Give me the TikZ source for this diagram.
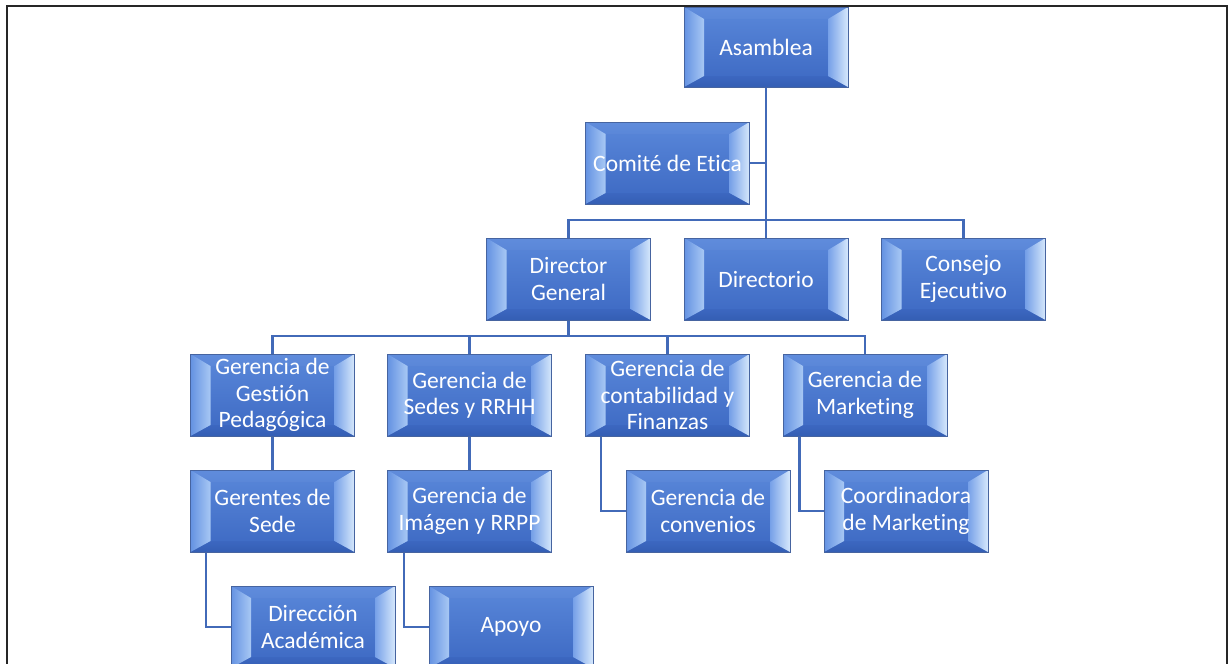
\documentclass[tikz,border=0pt]{standalone}
\usepackage{fontspec}
\setmainfont{Carlito}[Ligatures={NoCommon}]
\usetikzlibrary{calc,backgrounds}
\definecolor{faceT}{RGB}{90,136,218}
\definecolor{faceB}{RGB}{60,104,194}
\definecolor{topT}{RGB}{96,140,220}
\definecolor{topB}{RGB}{90,135,216}
\definecolor{botT}{RGB}{60,103,192}
\definecolor{botB}{RGB}{52,94,180}
\definecolor{lfL}{RGB}{100,146,226}
\definecolor{lfR}{RGB}{168,200,244}
\definecolor{rtL}{RGB}{118,160,232}
\definecolor{rtR}{RGB}{214,232,252}
\definecolor{bdr}{RGB}{70,100,160}
\definecolor{lc}{RGB}{66,106,184}
\tikzset{
  bx/.style={rectangle, minimum width=164pt, minimum height=82pt, inner sep=0pt,
    draw=bdr, line width=0.8pt, text=white, align=center,
    font=\fontsize{23.5}{26.5}\selectfont,
    path picture={
      \path (path picture bounding box.north west) coordinate (pNW)
            (path picture bounding box.north east) coordinate (pNE)
            (path picture bounding box.south west) coordinate (pSW)
            (path picture bounding box.south east) coordinate (pSE);
      \path ([shift={(20pt,-12pt)}]pNW) coordinate (iNW)
            ([shift={(-20pt,-12pt)}]pNE) coordinate (iNE)
            ([shift={(20pt,11pt)}]pSW) coordinate (iSW)
            ([shift={(-20pt,11pt)}]pSE) coordinate (iSE);
      \shade[top color=faceT, bottom color=faceB] (pNW) rectangle (pSE);
      \shade[top color=topT, bottom color=topB] (pNW) -- (pNE) -- (iNE) -- (iNW) -- cycle;
      \shade[top color=botT, bottom color=botB] (pSW) -- (pSE) -- (iSE) -- (iSW) -- cycle;
      \shade[left color=lfL, right color=lfR] (pNW) -- (iNW) -- (iSW) -- (pSW) -- cycle;
      \shade[left color=rtL, right color=rtR] (pNE) -- (iNE) -- (iSE) -- (pSE) -- cycle;
    }},
  conn/.style={draw=lc, line width=2.6pt},
  frame/.style={draw=black!85, line width=2.2pt}
}
\begin{document}
\begin{tikzpicture}[x=1pt, y=-1pt]
\useasboundingbox (0,0) rectangle (1229,664);
\clip (0,0) rectangle (1229,664);
\draw[frame] (7,6) rectangle (1227,700);

% connector junctions
\coordinate (j1) at (766,220);
\coordinate (j2) at (568.5,336);

% nodes
\node[bx, minimum height=80pt] (asam) at (766,47) {Asamblea};
\node[bx] (com) at (667.5,163) {Comité de Etica};
\node[bx] (dg) at (568.5,279) {Director\\General};
\node[bx] (dir) at (766,279) {Directorio};
\node[bx] (cons) at (963.5,279) {Consejo\\Ejecutivo};
\node[bx] (g1) at (272.5,395) {Gerencia de\\Gestión\\Pedagógica};
\node[bx] (g2) at (469.5,395) {Gerencia de\\Sedes y RRHH};
\node[bx] (g3) at (667.5,395) {Gerencia de\\contabilidad y\\Finanzas};
\node[bx] (g4) at (865,395) {Gerencia de\\Marketing};
\node[bx] (s1) at (272.5,511) {Gerentes de\\Sede};
\node[bx] (s2) at (469.5,511) {Gerencia de\\Imágen y RRPP};
\node[bx] (s3) at (708,511) {Gerencia de\\convenios};
\node[bx] (s4) at (906,511) {Coordinadora\\de Marketing};
\node[bx] (d1) at (313,627) {Dirección\\Académica};
\node[bx] (d2) at (511,627) {Apoyo};

% connectors (behind nodes)
\begin{scope}[on background layer]
\draw[conn] (asam.south) -- (j1);
\draw[conn] (j1) -| (dg.north);
\draw[conn] (j1) -- (dir.north);
\draw[conn] (j1) -| (cons.north);
\draw[conn] (com.east) -- (com.east -| asam.south);
\draw[conn] (dg.south) -- (j2);
\draw[conn] (j2) -| (g1.north);
\draw[conn] (j2) -| (g2.north);
\draw[conn] (j2) -| (g3.north);
\draw[conn] (j2) -| (g4.north);
\draw[conn] (g1.south) -- (s1.north);
\draw[conn] (g2.south) -- (s2.north);
\draw[conn] ([xshift=16pt]g3.south west) |- (s3.west);
\draw[conn] ([xshift=17pt]g4.south west) |- (s4.west);
\draw[conn] ([xshift=16pt]s1.south west) |- (d1.west);
\draw[conn] ([xshift=17pt]s2.south west) |- (d2.west);
\end{scope}
\end{tikzpicture}
\end{document}
